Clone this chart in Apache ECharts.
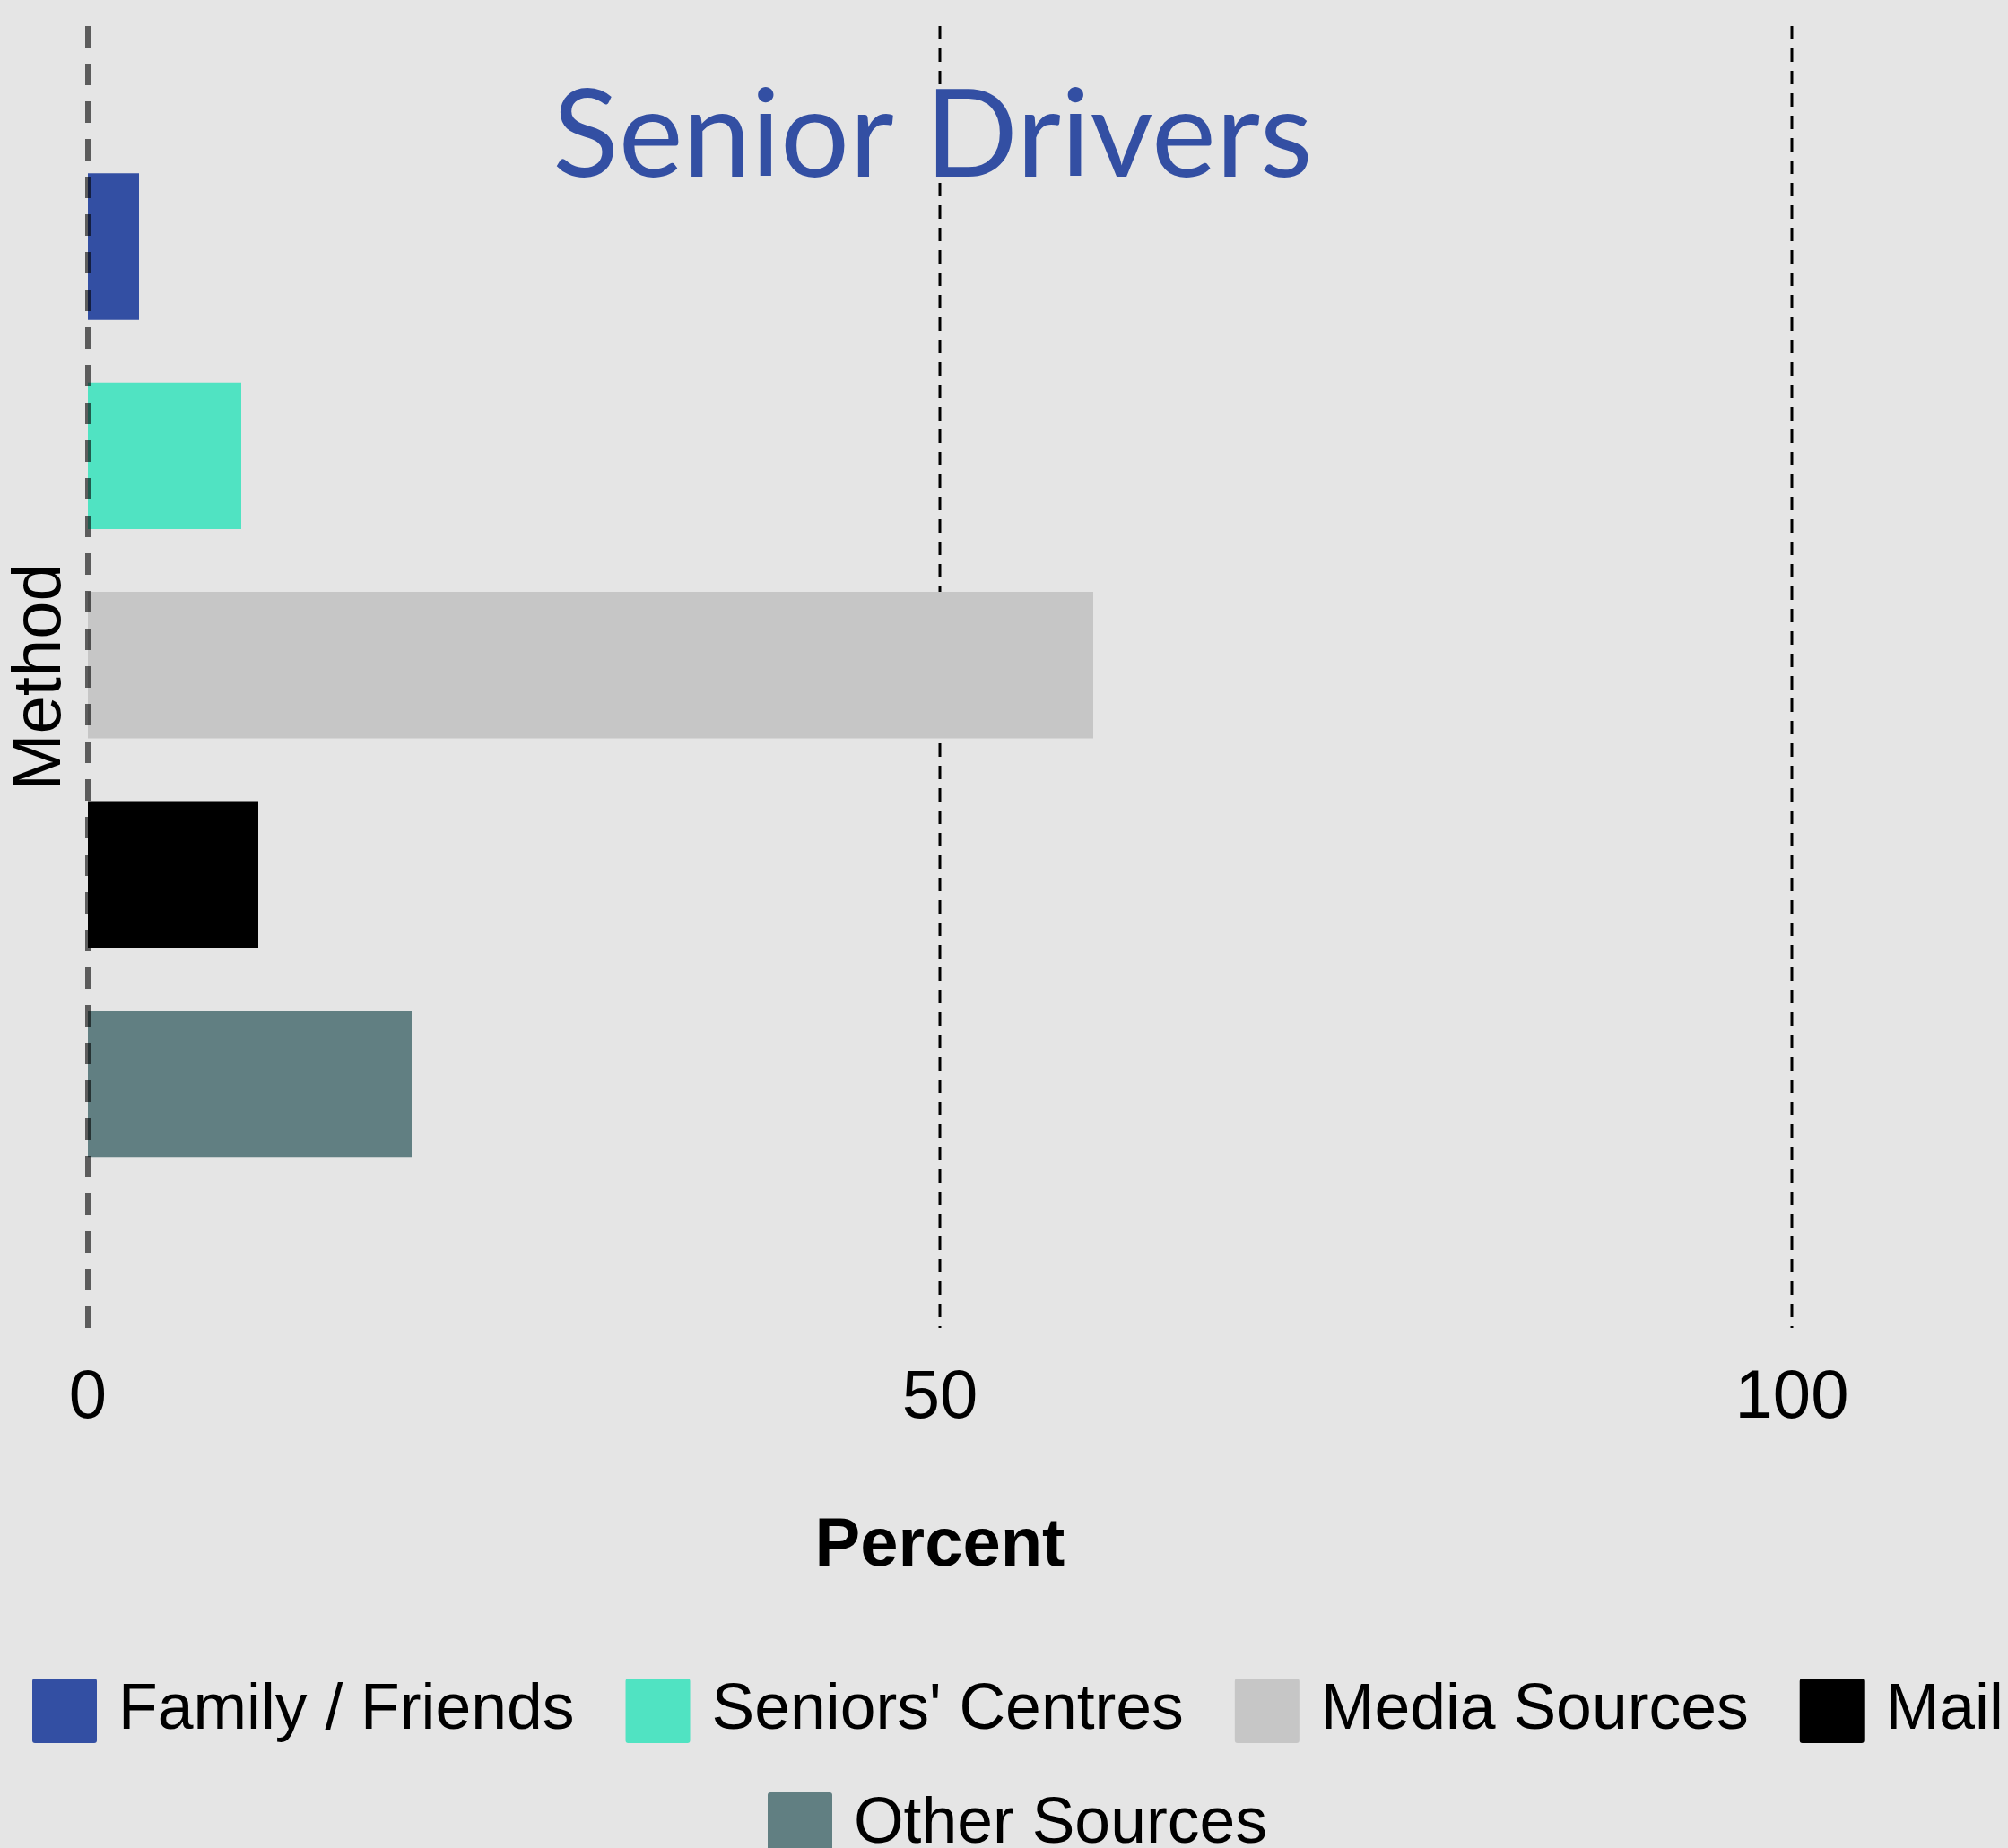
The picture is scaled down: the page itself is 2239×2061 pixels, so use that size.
<!DOCTYPE html>
<html><head><meta charset="utf-8">
<script src="https://cdn.jsdelivr.net/npm/echarts@6/dist/echarts.min.js"></script>
<style>html,body{margin:0;padding:0;background:#e5e5e5;} #c{width:2239px;height:2061px;}</style>
</head><body><div id="c"></div>
<script>
const categories = ['Family / Friends', "Seniors' Centres", 'Media Sources', 'Mail', 'Other Sources'];
const values = [3, 9, 59, 10, 19];
const colors = ['#334fa3', '#50e3c2', '#c6c6c6', '#000000', '#617f82'];
const refLines = [0, 50, 100];
const xTickInterval = 50;
const titleText = 'Senior Drivers';
const xName = 'Percent';
const yName = 'Method';

const FONT = 'Liberation Sans';
const chart = echarts.init(document.getElementById('c'), null, {renderer: 'canvas'});
const icon = 'path://M3,0H69A3,3 0 0 1 72,3V69A3,3 0 0 1 69,72H3A3,3 0 0 1 0,69V3A3,3 0 0 1 3,0Z';
const legendCommon = {
  orient: 'horizontal', width: 3000, itemWidth: 72, itemHeight: 72, itemGap: 57, padding: 0,
  icon: icon, selectedMode: false,
  textStyle: {fontSize: 71.5, color: '#000', fontFamily: FONT, padding: [0, 0, 0, 19]}
};
const option = {
  backgroundColor: '#e5e5e5',
  animation: false,
  graphic: [{
    type: 'text', x: 1040, y: 153, z: 100,
    style: {text: titleText, fontSize: 136, fontFamily: 'Lato', fill: '#334fa3',
      textAlign: 'center', textVerticalAlign: 'middle', align: 'center', verticalAlign: 'middle'}
  }],
  legend: [
    Object.assign({}, legendCommon, {data: categories.slice(0, 4), left: 36, top: 1872}),
    Object.assign({}, legendCommon, {data: categories.slice(4), left: 856, top: 1999})
  ],
  grid: [
    {left: 98, right: 241, top: 158.3, height: 1167},
    {left: 98, right: 241, top: 29, bottom: 580}
  ],
  xAxis: [
    {gridIndex: 0, type: 'value', min: 0, max: 100, interval: xTickInterval, show: false},
    {gridIndex: 1, type: 'value', min: 0, max: 100, interval: xTickInterval,
      axisLine: {show: false}, axisTick: {show: false}, splitLine: {show: false},
      axisLabel: {fontSize: 76, color: '#000', margin: 41, fontFamily: FONT},
      name: xName, nameLocation: 'middle', nameGap: 206,
      nameTextStyle: {fontSize: 76, fontWeight: 'bold', color: '#000', fontFamily: FONT}}
  ],
  yAxis: [
    {gridIndex: 0, type: 'category', data: categories, inverse: true, show: false},
    {gridIndex: 1, type: 'value', min: 0, max: 1,
      axisLine: {show: false}, axisTick: {show: false}, axisLabel: {show: false}, splitLine: {show: false},
      name: yName, nameLocation: 'middle', nameRotate: 90, nameGap: 14,
      nameTextStyle: {fontSize: 76, color: '#000', fontFamily: FONT}}
  ],
  series: categories.map((name, i) => ({
    type: 'bar', name: name, stack: 'all', xAxisIndex: 0, yAxisIndex: 0,
    barWidth: '70%', z: 2, itemStyle: {color: colors[i]},
    data: categories.map((c, j) => j === i ? values[i] : '-')
  })).concat(refLines.map(v => ({
    type: 'line', xAxisIndex: 1, yAxisIndex: 1, silent: true, symbol: 'none',
    z: v === 0 ? 5 : 1,
    lineStyle: v === 0 ? {color: 'rgba(0,0,0,0.6)', width: 6, type: [24, 18]}
                       : {color: '#000', width: 3, type: [15, 10]},
    data: [[v, 1], [v, 0]]
  })))
};
chart.setOption(option);
</script></body></html>
